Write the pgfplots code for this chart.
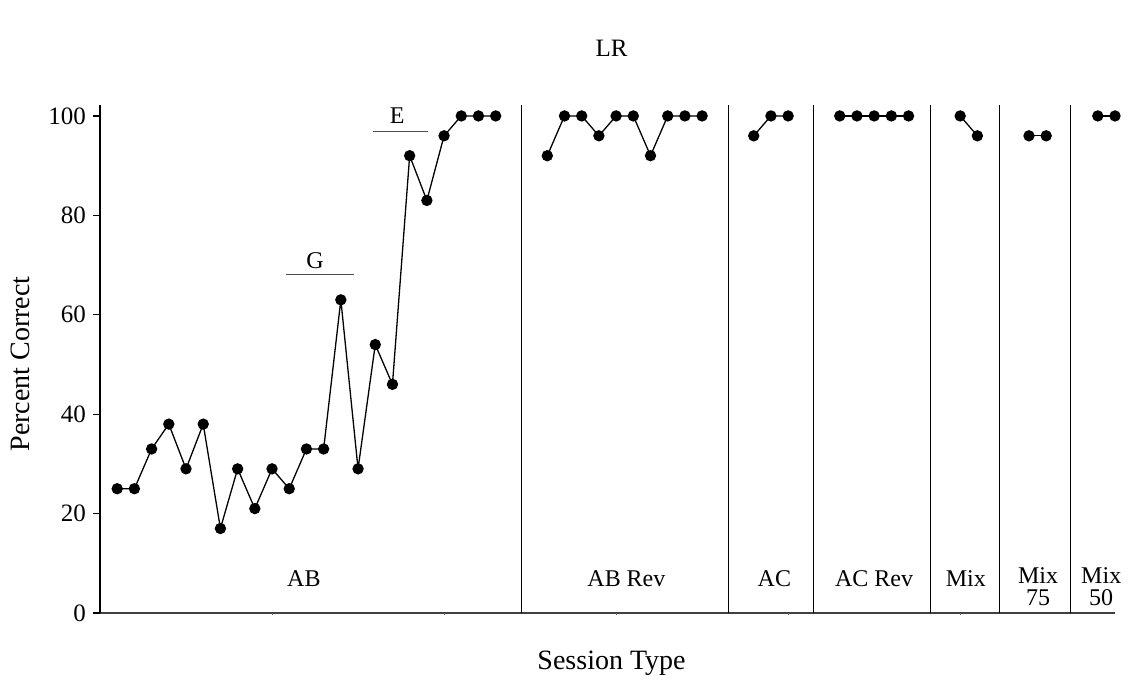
\documentclass[border=0pt]{standalone}
\usepackage{fontspec}
\setmainfont{Liberation Serif}
\usepackage{pgfplots}
\pgfplotsset{compat=1.18}

\begin{document}
\begin{tikzpicture}
% page frame: 1 px = 0.5 pt, axis box lower-left corner at the origin
\path[use as bounding box] (-50pt,-35.5pt) rectangle (514.5pt,306.5pt);
\begin{axis}[
  at={(0pt,0pt)}, anchor=south west,
  scale only axis, width=507.5pt, height=254pt,
  xmin=0, xmax=59, ymin=0, ymax=102.2,
  clip=false,
  axis x line*=bottom, axis y line*=left,
  x axis line style={-, draw=black!75, line width=1pt},
  y axis line style={-, draw=black, line width=0.8pt},
  xtick=\empty,
  ytick={0,20,40,60,80,100},
  tick align=outside, major tick length=3.5pt,
  ytick style={draw=black, line width=0.6pt},
  yticklabel style={font=\fontsize{12.5}{14}\selectfont},
  /pgf/number format/assume math mode=true,
  title={LR},
  every axis title shift=0pt,
  title style={at={(axis description cs:0.504,1.112)}, anchor=center, font=\fontsize{12.5}{14}\selectfont},
  xlabel={Session Type},
  xlabel style={at={(axis description cs:0.504,-0.0984)}, anchor=center, font=\fontsize{14}{16}\selectfont},
  ylabel={Percent Correct},
  ylabel style={at={(axis description cs:-0.0788,0.49)}, anchor=center, font=\fontsize{14}{16}\selectfont},
  sess/.style={black, line width=0.65pt, mark=*, mark size=2.5pt, mark options={solid, fill=black}},
]
% AB
\addplot[sess] coordinates {(1,25) (2,25) (3,33) (4,38) (5,29) (6,38) (7,17) (8,29) (9,21) (10,29)
  (11,25) (12,33) (13,33) (14,63) (15,29) (16,54) (17,46) (18,92) (19,83) (20,96)
  (21,100) (22,100) (23,100)};
% AB Rev
\addplot[sess] coordinates {(26,92) (27,100) (28,100) (29,96) (30,100) (31,100) (32,92) (33,100) (34,100) (35,100)};
% AC
\addplot[sess] coordinates {(38,96) (39,100) (40,100)};
% AC Rev
\addplot[sess] coordinates {(43,100) (44,100) (45,100) (46,100) (47,100)};
% Mix
\addplot[sess] coordinates {(50,100) (51,96)};
% Mix 75
\addplot[sess] coordinates {(54,96) (55,96)};
% Mix 50
\addplot[sess] coordinates {(58,100) (59,100)};

% phase dividers
\pgfplotsinvokeforeach{24.48,36.56,41.46,48.3,52.27,56.4}{
  \draw[black, line width=0.5pt] (axis cs:#1,0) -- (axis cs:#1,102.2);
}
% small ticks on the session axis
\pgfplotsinvokeforeach{10,20,30,40,50}{
  \draw[black!60, line width=0.5pt] (axis cs:#1,0) -- ++(0,-1.2pt);
}

% phase names
\tikzset{phase/.style={anchor=north, inner sep=0pt, align=center, font=\fontsize{12}{10.9}\selectfont}}
\node[phase] at (axis cs:11.85,8.6) {AB};
\node[phase] at (axis cs:30.6,8.6) {AB Rev};
\node[phase] at (axis cs:39.2,8.6) {AC};
\node[phase] at (axis cs:45.0,8.6) {AC Rev};
\node[phase] at (axis cs:50.33,8.6) {Mix};
\node[phase] at (axis cs:54.53,9.2) {Mix\\75};
\node[phase] at (axis cs:58.2,9.2) {Mix\\50};

% criterion markers
\draw[black!70, line width=0.5pt] (axis cs:10.8,68.15) -- (axis cs:14.77,68.15);
\node[anchor=center, inner sep=0pt, font=\fontsize{12}{14}\selectfont] at (axis cs:12.5,70.97) {G};
\draw[black!70, line width=0.5pt] (axis cs:15.89,96.9) -- (axis cs:19.09,96.9);
\node[anchor=center, inner sep=0pt, font=\fontsize{12}{14}\selectfont] at (axis cs:17.27,100.1) {E};
\end{axis}
\end{tikzpicture}
\end{document}
